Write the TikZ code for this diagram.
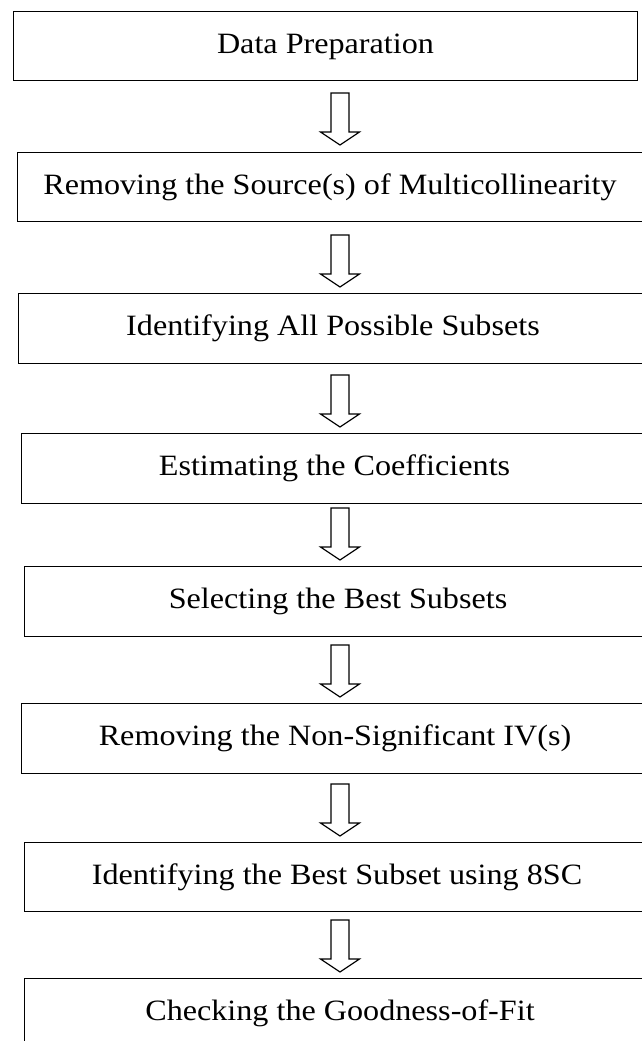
\documentclass[tikz,border=0pt]{standalone}
\usepackage{fontspec}
\setmainfont{Liberation Serif}[FakeStretch=1.09]
\usetikzlibrary{calc}
\tikzset{
  stepbox/.style={draw=black, line width=1.4pt, rectangle, inner sep=0pt, anchor=north west},
  lbl/.style={anchor=base, inner sep=0pt, font=\fontsize{29.5}{34}\selectfont},
  arrowline/.style={draw=black, line width=1.2pt, fill=white, line join=miter},
  dnarrow/.pic={\path[arrowline] (0,0) -- (-19.5,13) -- (-9,13) -- (-9,52) -- (9,52) -- (9,13) -- (19.5,13) -- cycle;}
}
\begin{document}
\begin{tikzpicture}[x=1pt,y=1pt]
\useasboundingbox (0,0) rectangle (641,-1041);
\coordinate (ax) at (340,0);
% boxes
\node[stepbox, minimum width=624pt, minimum height=69pt] (b1) at (13,-11) {};
\node[stepbox, minimum width=650pt, minimum height=69pt] (b2) at (17,-152) {};
\node[stepbox, minimum width=650pt, minimum height=70pt] (b3) at (18,-293) {};
\node[stepbox, minimum width=650pt, minimum height=70pt] (b4) at (21,-433) {};
\node[stepbox, minimum width=650pt, minimum height=70pt] (b5) at (24,-566) {};
\node[stepbox, minimum width=650pt, minimum height=70pt] (b6) at (21,-703) {};
\node[stepbox, minimum width=650pt, minimum height=69pt] (b7) at (24,-842) {};
\node[stepbox, minimum width=650pt, minimum height=100pt] (b8) at (24,-978) {};
% labels
\node[lbl] (t1) at (325.5,-53) {Data Preparation};
\node[lbl] (t2) at (330,-194) {Removing the Source(s) of Multicollinearity};
\node[lbl] (t3) at (333,-335) {Identifying All Possible Subsets};
\node[lbl] (t4) at (334.5,-475) {Estimating the Coefficients};
\node[lbl] (t5) at (338,-608) {Selecting the Best Subsets};
\node[lbl] (t6) at (335,-745) {Removing the Non-Significant IV(s)};
\node[lbl] (t7) at (337,-884) {Identifying the Best Subset using 8SC};
\node[lbl] (t8) at (340,-1020) {Checking the Goodness-of-Fit};
% arrows (tip just above next box)
\pic at ($(b2.north west -| ax)+(0,7)$) {dnarrow};
\pic at ($(b3.north west -| ax)+(0,6)$) {dnarrow};
\pic at ($(b4.north west -| ax)+(0,6)$) {dnarrow};
\pic at ($(b5.north west -| ax)+(0,6)$) {dnarrow};
\pic at ($(b6.north west -| ax)+(0,6)$) {dnarrow};
\pic at ($(b7.north west -| ax)+(0,6)$) {dnarrow};
\pic at ($(b8.north west -| ax)+(0,6)$) {dnarrow};
\end{tikzpicture}
\end{document}
